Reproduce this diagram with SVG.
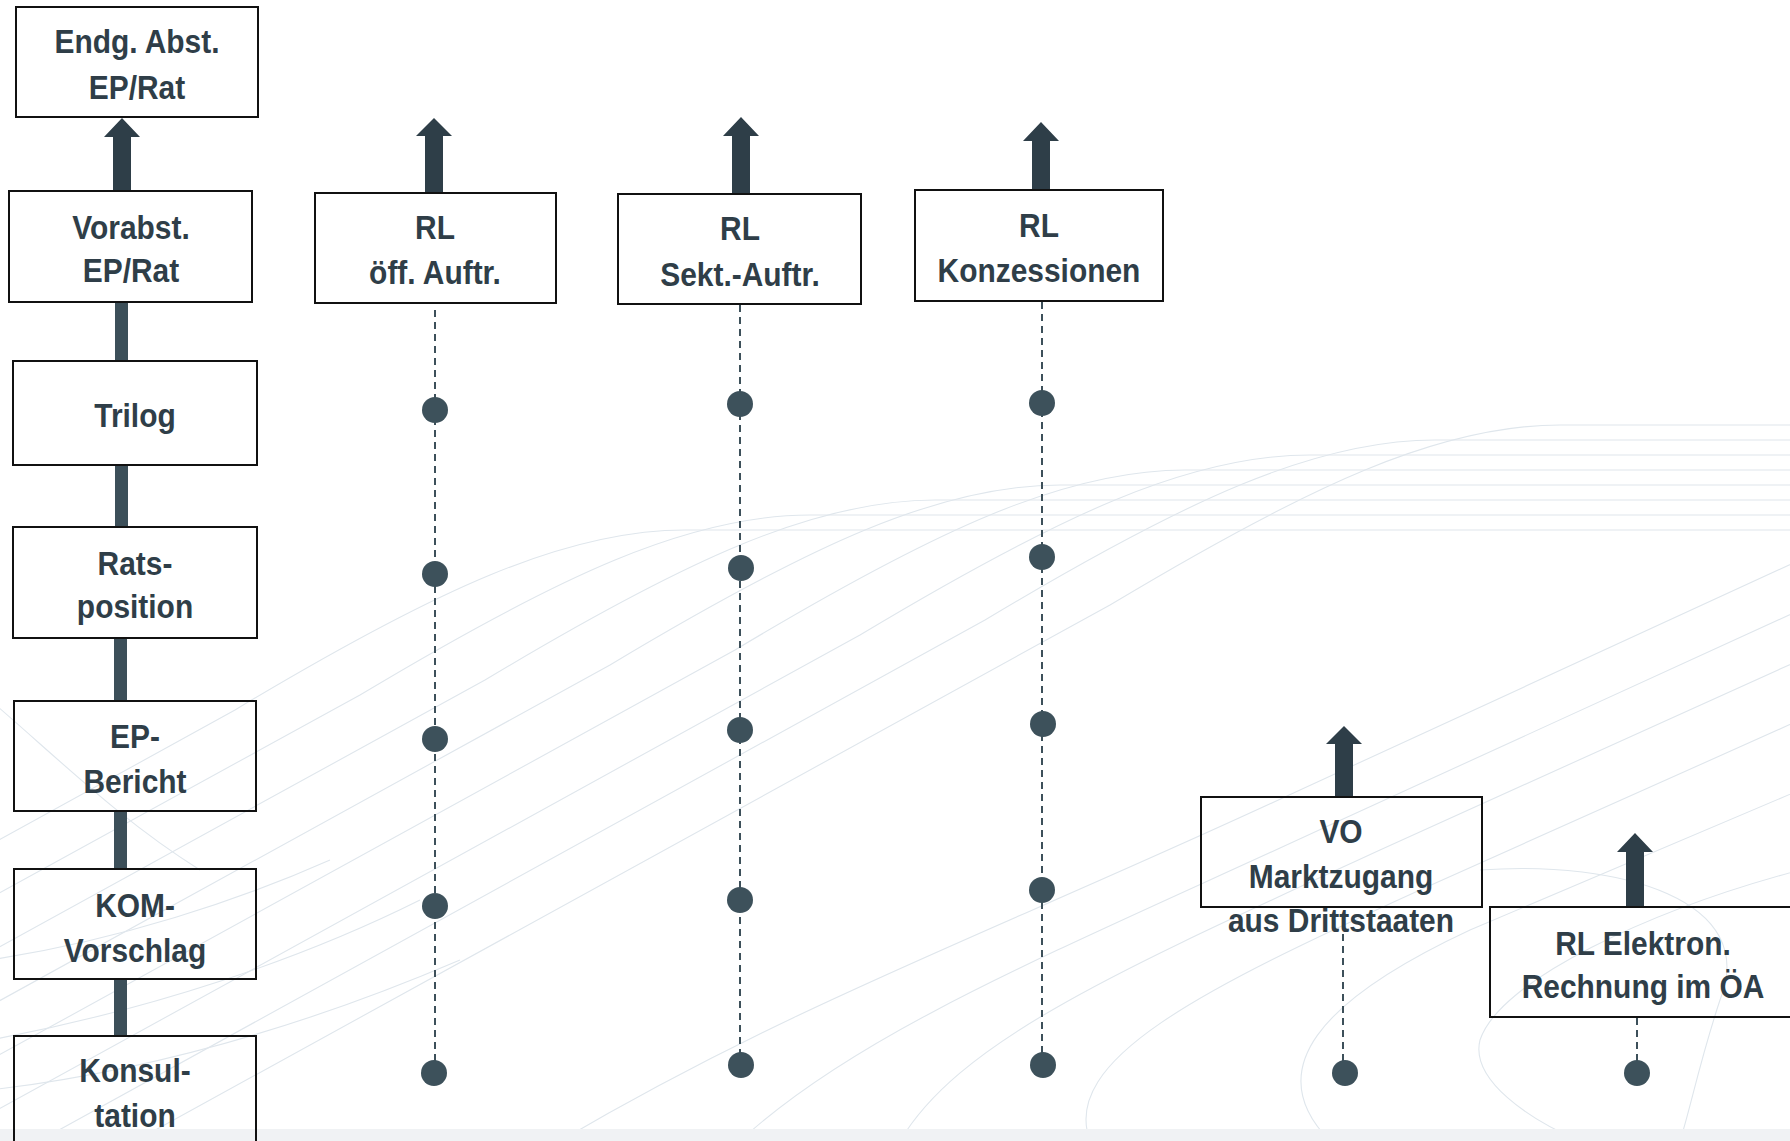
<svg xmlns="http://www.w3.org/2000/svg" width="1790" height="1141" viewBox="0 0 1790 1141">
<defs>
<style>
.bg{fill:none;stroke:#dfe6ec;stroke-width:1.1}
.box{fill:none;stroke:#111;stroke-width:2}
.t{font-family:"Liberation Sans",Arial,sans-serif;font-weight:bold;font-size:34px;fill:#2f3e48;text-anchor:middle}
.arrow{fill:#2e3e48}
.bar{fill:#3c4f59}
.dash{stroke:#3d505a;stroke-width:2;stroke-dasharray:7 5;fill:none}
.dot{fill:#3d515b}
</style>
</defs>
<rect width="1790" height="1141" fill="#ffffff"/>
<g id="background">
<path class="bg" d="M1800 425 L1560 425 C1440 425 1310 485 1110 605 L-10 1221"/>
<path class="bg" d="M1800 440 L1435 440 C1315 440 1185 500 985 620 L-10 1168"/>
<path class="bg" d="M1800 455 L1310 455 C1190 455 1060 515 860 635 L-10 1114"/>
<path class="bg" d="M1800 470 L1185 470 C1065 470 935 530 735 650 L-10 1060"/>
<path class="bg" d="M1800 485 L1060 485 C940 485 810 545 610 665 L-10 1006"/>
<path class="bg" d="M1800 500 L935 500 C815 500 685 560 485 680 L-10 952"/>
<path class="bg" d="M1800 515 L810 515 C690 515 560 575 360 695 L-10 898"/>
<path class="bg" d="M1800 530 L685 530 C565 530 435 590 235 710 L-10 845"/>
<path class="bg" d="M1800 560 L1300 790 C1000 930 800 1000 560 1141"/>
<path class="bg" d="M1800 610 L1330 825 C1060 950 860 1030 740 1141"/>
<path class="bg" d="M1800 660 L1380 850 C1120 970 960 1040 900 1141"/>
<path class="bg" d="M1800 720 L1420 890 C1200 990 1060 1060 1090 1141"/>
<path class="bg" d="M1800 790 L1470 930 C1320 1000 1260 1070 1330 1141"/>
<path class="bg" d="M1800 870 C1650 910 1500 980 1480 1040 C1470 1080 1530 1120 1580 1141"/>
<path class="bg" d="M1480 870 C1620 860 1760 900 1720 1000 C1700 1060 1690 1110 1680 1141"/>
<path class="bg" d="M-10 1040 C150 1010 300 960 420 900"/>
<path class="bg" d="M-10 1090 C160 1070 320 1020 460 960"/>
<path class="bg" d="M-10 960 C120 940 240 900 330 860"/>
<path class="bg" d="M-10 700 C60 760 120 820 200 870"/>
</g>
<rect x="0" y="1129" width="1790" height="12" fill="#f0f2f4"/>
<g id="connectors">
<polygon class="arrow" points="122,118 140,137 131,137 131,191 113,191 113,137 104,137"/>
<rect class="bar" x="115" y="302" width="13" height="59"/>
<rect class="bar" x="115" y="465" width="13" height="62"/>
<rect class="bar" x="114" y="638" width="13" height="63"/>
<rect class="bar" x="114" y="811" width="13" height="58"/>
<rect class="bar" x="114" y="979" width="13" height="57"/>
<polygon class="arrow" points="434,118 452,136 443,136 443,193 425,193 425,136 416,136"/>
<polygon class="arrow" points="741,117 759,136 750,136 750,194 732,194 732,136 723,136"/>
<polygon class="arrow" points="1041,122 1059,141 1050,141 1050,190 1032,190 1032,141 1023,141"/>
<polygon class="arrow" points="1344,726 1362,744 1353,744 1353,797 1335,797 1335,744 1326,744"/>
<polygon class="arrow" points="1635,833 1653,852 1644,852 1644,907 1626,907 1626,852 1617,852"/>
<line class="dash" x1="435" y1="310" x2="435" y2="1073"/>
<line class="dash" x1="740" y1="305" x2="740" y2="1065"/>
<line class="dash" x1="1042" y1="302" x2="1042" y2="1065"/>
<line class="dash" x1="1343" y1="934" x2="1343" y2="1073"/>
<line class="dash" x1="1637" y1="1018" x2="1637" y2="1073"/>
<circle class="dot" cx="435" cy="410" r="13"/>
<circle class="dot" cx="435" cy="574" r="13"/>
<circle class="dot" cx="435" cy="739" r="13"/>
<circle class="dot" cx="435" cy="906" r="13"/>
<circle class="dot" cx="434" cy="1073" r="13"/>
<circle class="dot" cx="740" cy="404" r="13"/>
<circle class="dot" cx="741" cy="568" r="13"/>
<circle class="dot" cx="740" cy="730" r="13"/>
<circle class="dot" cx="740" cy="900" r="13"/>
<circle class="dot" cx="741" cy="1065" r="13"/>
<circle class="dot" cx="1042" cy="403" r="13"/>
<circle class="dot" cx="1042" cy="557" r="13"/>
<circle class="dot" cx="1043" cy="724" r="13"/>
<circle class="dot" cx="1042" cy="890" r="13"/>
<circle class="dot" cx="1043" cy="1065" r="13"/>
<circle class="dot" cx="1345" cy="1073" r="13"/>
<circle class="dot" cx="1637" cy="1073" r="13"/>
</g>
<g id="node-endg">
<rect class="box" x="16" y="7" width="242" height="110"/>
<text class="t" transform="translate(137 53) scale(0.88 1)">Endg. Abst.</text>
<text class="t" transform="translate(137 99) scale(0.88 1)">EP/Rat</text>
</g>
<g id="node-vorabst">
<rect class="box" x="9" y="191" width="243" height="111"/>
<text class="t" transform="translate(131 239) scale(0.88 1)">Vorabst.</text>
<text class="t" transform="translate(131 282) scale(0.88 1)">EP/Rat</text>
</g>
<g id="node-trilog">
<rect class="box" x="13" y="361" width="244" height="104"/>
<text class="t" transform="translate(135 427) scale(0.88 1)">Trilog</text>
</g>
<g id="node-rats">
<rect class="box" x="13" y="527" width="244" height="111"/>
<text class="t" transform="translate(135 575) scale(0.88 1)">Rats-</text>
<text class="t" transform="translate(135 618) scale(0.88 1)">position</text>
</g>
<g id="node-ep">
<rect class="box" x="14" y="701" width="242" height="110"/>
<text class="t" transform="translate(135 748) scale(0.88 1)">EP-</text>
<text class="t" transform="translate(135 793) scale(0.88 1)">Bericht</text>
</g>
<g id="node-kom">
<rect class="box" x="14" y="869" width="242" height="110"/>
<text class="t" transform="translate(135 917) scale(0.88 1)">KOM-</text>
<text class="t" transform="translate(135 962) scale(0.88 1)">Vorschlag</text>
</g>
<g id="node-konsul">
<rect class="box" x="14" y="1036" width="242" height="120"/>
<text class="t" transform="translate(135 1082) scale(0.88 1)">Konsul-</text>
<text class="t" transform="translate(135 1127) scale(0.88 1)">tation</text>
</g>
<g id="node-rl-oeff">
<rect class="box" x="315" y="193" width="241" height="110"/>
<text class="t" transform="translate(435 239) scale(0.88 1)">RL</text>
<text class="t" transform="translate(435 284) scale(0.88 1)">öff. Auftr.</text>
</g>
<g id="node-rl-sekt">
<rect class="box" x="618" y="194" width="243" height="110"/>
<text class="t" transform="translate(740 240) scale(0.88 1)">RL</text>
<text class="t" transform="translate(740 286) scale(0.88 1)">Sekt.-Auftr.</text>
</g>
<g id="node-rl-konz">
<rect class="box" x="915" y="190" width="248" height="111"/>
<text class="t" transform="translate(1039 237) scale(0.88 1)">RL</text>
<text class="t" transform="translate(1039 282) scale(0.88 1)">Konzessionen</text>
</g>
<g id="node-vo">
<rect class="box" x="1201" y="797" width="281" height="110"/>
<text class="t" transform="translate(1341 843) scale(0.88 1)">VO</text>
<text class="t" transform="translate(1341 888) scale(0.88 1)">Marktzugang</text>
<text class="t" transform="translate(1341 932) scale(0.88 1)">aus Drittstaaten</text>
</g>
<g id="node-rl-elektron">
<rect class="box" x="1490" y="907" width="310" height="110"/>
<text class="t" transform="translate(1643 955) scale(0.88 1)">RL Elektron.</text>
<text class="t" transform="translate(1643 998) scale(0.88 1)">Rechnung im ÖA</text>
</g>
</svg>
